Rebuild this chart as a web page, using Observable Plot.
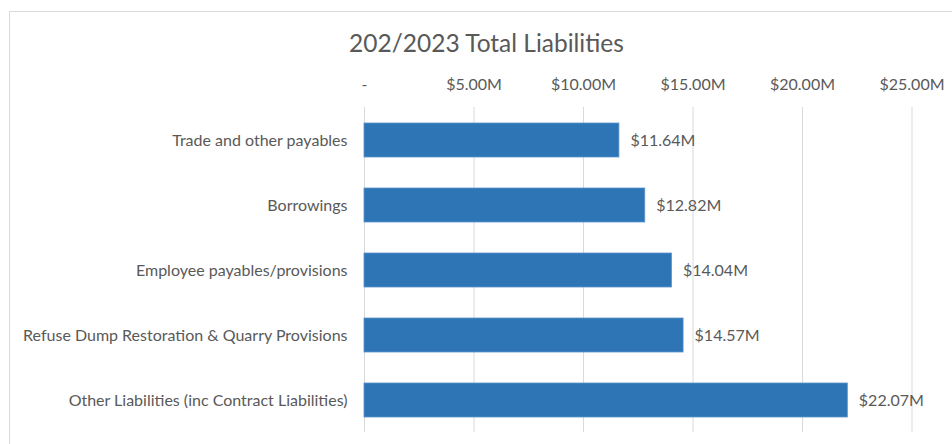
<!DOCTYPE html>
<html>
<head>
<meta charset="utf-8">
<script src="https://cdn.jsdelivr.net/npm/d3@7"></script>
<script src="https://cdn.jsdelivr.net/npm/@observablehq/plot@0.6"></script>
<style>
  html, body { margin: 0; padding: 0; background: #ffffff; }
  #wrap { position: relative; width: 952px; height: 444px; overflow: hidden; }
  #frame { position: absolute; left: 9px; top: 11px; width: 1000px; height: 1000px;
           border: 1px solid #d9d9d9; box-sizing: border-box; pointer-events: none; z-index: 2; }
  #title { position: relative; height: 60px; }
  #title span { position: absolute; left: 9px; width: 955px; top: 31px; text-align: center;
                font-family: Lato, sans-serif; font-size: 24.5px; line-height: 24px; color: #595959; white-space: nowrap; }
  #chart svg { display: block; }
</style>
</head>
<body>
<div id="wrap">
  <div id="frame"></div>
  <div id="title"><span>202/2023 Total Liabilities</span></div>
  <div id="chart"></div>
</div>
<script>
const categories = [
  "Trade and other payables",
  "Borrowings",
  "Employee payables/provisions",
  "Refuse Dump Restoration & Quarry Provisions",
  "Other Liabilities (inc Contract Liabilities)"
];
const values = [11.64, 12.82, 14.04, 14.57, 22.07]; // $ millions
const xTicks = [0, 5, 10, 15, 20, 25];

const data = categories.map((c, i) => ({category: c, value: values[i]}));
const fmt = d => d === 0 ? "-" : `$${d.toFixed(2)}M`;

const chart = Plot.plot({
  width: 952,
  height: 384,
  marginLeft: 364,
  marginRight: 40.5,
  marginTop: 47,
  marginBottom: 12,
  style: {fontFamily: "Lato, sans-serif", fontSize: "16px", color: "#595959", background: "transparent"},
  x: {domain: [0, 25], axis: "top", ticks: xTicks, tickFormat: fmt, tickSize: 0, tickPadding: 18, label: null},
  y: {domain: categories, paddingInner: 0.477, paddingOuter: 0.2385, tickSize: 0, tickPadding: 17, label: null},
  marks: [
    Plot.ruleX(xTicks, {stroke: "#d9d9d9", strokeWidth: 1}),
    Plot.barX(data, {x: "value", y: "category", fill: "#2e75b6", stroke: "#5b93cb", strokeWidth: 0.8}),
    Plot.text(data, {x: "value", y: "category", text: d => fmt(d.value), textAnchor: "start", dx: 11, fill: "#595959", fontSize: 16})
  ]
});
document.getElementById("chart").appendChild(chart);
</script>
</body>
</html>
